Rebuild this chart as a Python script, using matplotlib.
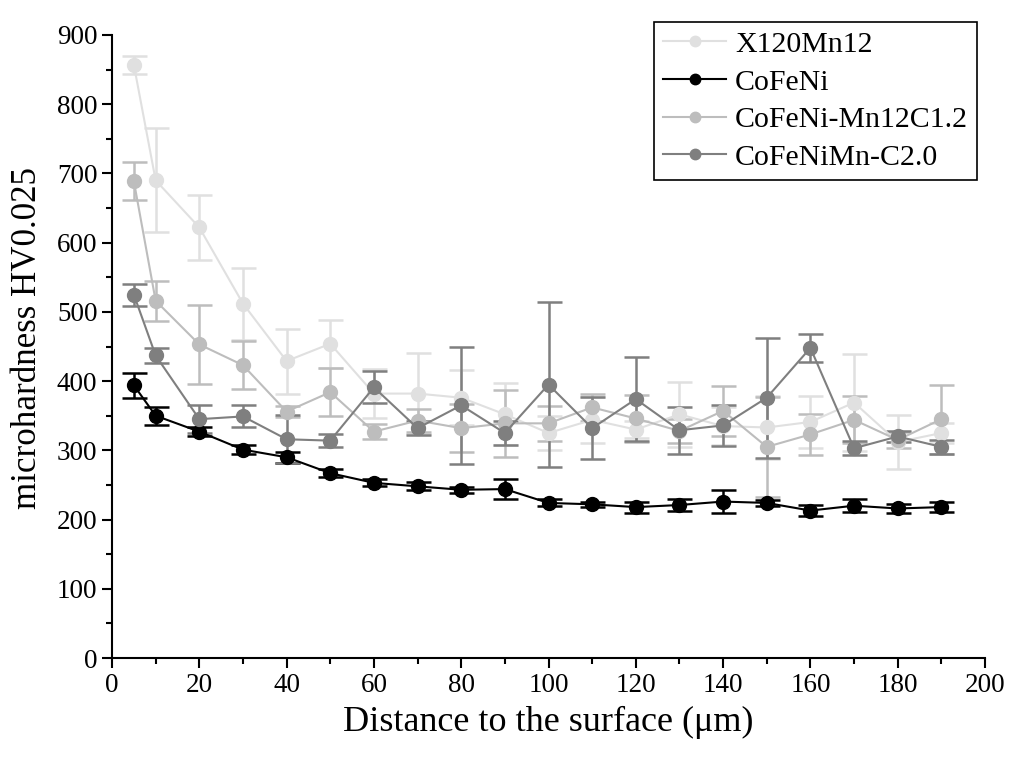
import matplotlib
matplotlib.use("Agg")
import matplotlib.pyplot as plt
from matplotlib.ticker import MultipleLocator
from matplotlib.lines import Line2D

plt.rcParams['font.family'] = ['Liberation Serif', 'DejaVu Serif']

depth = [5, 10, 20, 30, 40, 50, 60, 70, 80, 90, 100, 110, 120, 130, 140, 150, 160, 170, 180, 190]

x120_val = [857, 690, 622, 512, 429, 454, 382, 382, 376, 352, 325, 344, 330, 352, 335, 333, 341, 369, 312, 325]
x120_err = [13, 75, 47, 52, 47, 35, 35, 59, 40, 45, 24, 33, 12, 47, 27, 45, 38, 70, 39, 15]

cofeni_val = [394, 350, 327, 301, 290, 267, 253, 248, 243, 244, 224, 222, 218, 221, 226, 224, 213, 220, 216, 218]
cofeni_err = [18, 13, 6, 6, 8, 6, 5, 6, 4, 15, 5, 4, 8, 9, 17, 4, 8, 9, 7, 7]

mn12_val = [689, 516, 453, 423, 356, 384, 327, 343, 332, 339, 339, 362, 346, 328, 357, 305, 323, 344, 315, 345]
mn12_err = [28, 29, 57, 35, 8, 35, 11, 17, 35, 48, 25, 20, 34, 17, 36, 72, 30, 34, 12, 50]

c20_val = [525, 437, 345, 349, 316, 314, 391, 332, 365, 325, 395, 332, 374, 329, 336, 376, 448, 303, 320, 305]
c20_err = [16, 11, 20, 16, 35, 9, 23, 10, 85, 18, 119, 45, 61, 34, 30, 87, 20, 10, 8, 10]

series = [
    ("X120Mn12", x120_val, x120_err, "#e0e0e0"),
    ("CoFeNi", cofeni_val, cofeni_err, "#000000"),
    ("CoFeNi-Mn12C1.2", mn12_val, mn12_err, "#bdbdbd"),
    ("CoFeNiMn-C2.0", c20_val, c20_err, "#7f7f7f"),
]

fig = plt.figure(figsize=(10.11, 7.62), dpi=100)
ax = fig.add_axes([112/1011, 1-658/762, (985-112)/1011, (658-35)/762])

handles = []
for label, v, e, c in series:
    ax.errorbar(depth, v, yerr=e, color=c, ecolor=c, marker='o', markersize=10,
                linewidth=1.5, elinewidth=1.8, capsize=9, capthick=1.8)
    handles.append(Line2D([], [], color=c, marker='o', markersize=7.5,
                          linewidth=1.5, label=label))

ax.set_xlim(0, 200)
ax.set_ylim(0, 900)
ax.xaxis.set_major_locator(MultipleLocator(20))
ax.xaxis.set_minor_locator(MultipleLocator(10))
ax.yaxis.set_major_locator(MultipleLocator(100))
ax.yaxis.set_minor_locator(MultipleLocator(50))
ax.spines['top'].set_visible(False)
ax.spines['right'].set_visible(False)
for s in ('left', 'bottom'):
    ax.spines[s].set_linewidth(1.5)
ax.tick_params(which='major', direction='out', length=7, width=1.5, labelsize=19.5)
ax.tick_params(which='minor', direction='out', length=4, width=1.5)

ax.set_xlabel("Distance to the surface (μm)", fontsize=26, labelpad=6)
ax.set_ylabel("microhardness HV0.025", fontsize=25.2)
ax.yaxis.set_label_coords(-0.078, 0.5144)

leg = ax.legend(handles=handles, loc='upper right', bbox_to_anchor=(977/1011, 1-22/762),
                bbox_transform=fig.transFigure, fontsize=21.5, frameon=True,
                fancybox=False, edgecolor='black', framealpha=1,
                handlelength=2.1, handletextpad=0.3, labelspacing=0.36,
                borderpad=0.3, borderaxespad=0)
leg.get_frame().set_linewidth(1.2)

fig.savefig("out.png", dpi=100)
